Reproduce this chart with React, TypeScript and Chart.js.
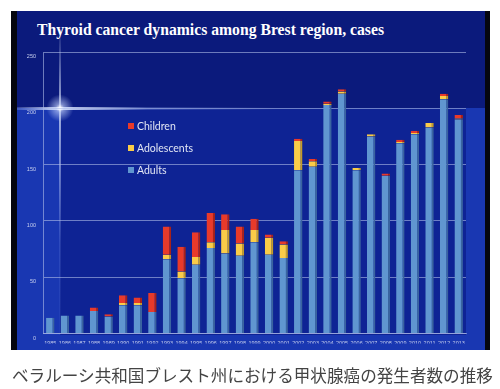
import React, { useEffect, useRef } from "react";
import { Chart, registerables } from "chart.js";

Chart.register(...registerables);

const years = [
  "1985", "1986", "1987", "1988", "1989", "1990", "1991", "1992", "1993", "1994",
  "1995", "1996", "1997", "1998", "1999", "2000", "2001", "2002", "2003", "2004",
  "2005", "2006", "2007", "2008", "2009", "2010", "2011", "2012", "2013",
];
const adults = [
  14, 16, 16, 20, 15, 25, 25, 19, 66, 49,
  61, 76, 71, 69, 81, 70, 67, 145, 148, 203,
  213, 145, 175, 140, 169, 177, 183, 208, 190,
];
const adolescents = [
  0, 0, 0, 0, 0, 2, 2, 0, 4, 6,
  7, 5, 21, 11, 11, 15, 12, 26, 5, 1,
  2, 2, 2, 0, 1, 1, 4, 3, 1,
];
const children = [
  0, 0, 0, 3, 2, 7, 5, 17, 25, 22,
  22, 26, 14, 15, 10, 3, 3, 2, 2, 2,
  2, 0, 0, 2, 2, 2, 0, 2, 3,
];
const yTicks = [0, 50, 100, 150, 200, 250];

const titleText = "Thyroid cancer dynamics among Brest region, cases";
const captionText = "ベラルーシ共和国ブレスト州における甲状腺癌の発生者数の推移";

const insideLegend = {
  id: "insideLegend",
  afterDraw(chart: any, _args: any, opts: any) {
    const ctx = chart.ctx;
    const ds = chart.data.datasets.slice().reverse();
    ctx.save();
    ctx.font = `${opts.fontSize}px ${opts.fontFamily}`;
    ctx.textBaseline = "middle";
    ctx.textAlign = "left";
    ds.forEach((d: any, i: number) => {
      const y = opts.y + i * opts.rowGap;
      ctx.fillStyle = d.backgroundColor;
      ctx.fillRect(opts.x, y - opts.box / 2, opts.box, opts.box);
      ctx.fillStyle = opts.color;
      ctx.fillText(d.label, opts.x + opts.box + 3, y + 0.5);
    });
    ctx.restore();
  },
};

export default function App() {
  const ref = useRef<HTMLCanvasElement | null>(null);

  useEffect(() => {
    if (!ref.current) return;
    const gridColor = "rgba(175,188,232,0.6)";
    const chart = new Chart(ref.current, {
      type: "bar",
      data: {
        labels: years,
        datasets: [
          {
            label: "Adults",
            data: adults,
            backgroundColor: "rgb(96,150,208)",
            borderColor: "rgb(58,100,160)",
            borderWidth: { right: 2, left: 0, top: 0, bottom: 0 },
            borderSkipped: false,
          },
          {
            label: "Adolescents",
            data: adolescents,
            backgroundColor: "rgb(250,204,72)",
            borderColor: "rgb(196,156,40)",
            borderWidth: { right: 2, left: 0, top: 0, bottom: 0 },
            borderSkipped: false,
          },
          {
            label: "Children",
            data: children,
            backgroundColor: "rgb(232,58,42)",
            borderColor: "rgb(170,34,24)",
            borderWidth: { right: 2, left: 0, top: 0, bottom: 0 },
            borderSkipped: false,
          },
        ],
      },
      options: {
        responsive: false,
        animation: false,
        maintainAspectRatio: false,
        layout: { padding: { left: 23, right: 34, top: 52, bottom: 45.5 } },
        datasets: { bar: { barPercentage: 0.58, categoryPercentage: 1 } },
        plugins: {
          legend: { display: false },
          tooltip: { enabled: false },
          title: { display: false },
          insideLegend: {
            x: 128,
            y: 126,
            rowGap: 22,
            box: 6,
            fontSize: 10.5,
            fontFamily: "Lato, 'Open Sans', sans-serif",
            color: "#e2e6f4",
          },
        } as any,
        scales: {
          x: {
            stacked: true,
            grid: { display: false, drawTicks: false },
            border: { display: true, color: gridColor },
            ticks: {
              autoSkip: false,
              maxRotation: 0,
              minRotation: 0,
              padding: 7,
              color: "#c8d0ee",
              font: { size: 5.5, family: "'Liberation Sans', Arial, sans-serif" },
            },
            afterFit: (scale: any) => {
              scale.height = 10;
            },
          },
          y: {
            stacked: true,
            min: 0,
            max: 250,
            afterBuildTicks: (scale: any) => {
              scale.ticks = yTicks.map((v) => ({ value: v }));
            },
            grid: { color: gridColor, lineWidth: 1, drawTicks: false },
            border: { display: true, color: gridColor },
            ticks: {
              padding: 7,
              labelOffset: 4.5,
              color: "#c8d0ee",
              font: { size: 5.5, family: "'Liberation Sans', Arial, sans-serif" },
            },
            afterFit: (scale: any) => {
              scale.width = 20;
            },
          },
        },
      },
      plugins: [insideLegend],
    });
    return () => chart.destroy();
  }, []);

  return (
    <div
      style={{
        position: "fixed",
        left: 0,
        top: 0,
        width: 500,
        height: 389,
        background: "#ffffff",
        overflow: "hidden",
      }}
    >
      {/* slide frame */}
      <div style={{ position: "absolute", left: 11, top: 11, width: 479, height: 339, background: "#05060f" }} />
      {/* slide dark base */}
      <div style={{ position: "absolute", left: 17, top: 11, width: 468, height: 339, background: "#0b1a7c" }} />
      {/* lighter lower band */}
      <div style={{ position: "absolute", left: 17, top: 108, width: 468, height: 242, background: "#1937b2" }} />
      {/* plot wall lower part */}
      <div style={{ position: "absolute", left: 60, top: 108, width: 406, height: 227, background: "#0e2394" }} />
      {/* flare */}
      <div
        style={{
          position: "absolute",
          left: 17,
          top: 106.5,
          width: 260,
          height: 3,
          background:
            "linear-gradient(to right, rgba(200,215,255,0.2) 0%, rgba(225,235,255,0.9) 16.5%, rgba(160,185,255,0.25) 50%, rgba(160,185,255,0) 100%)",
        }}
      />
      <div
        style={{
          position: "absolute",
          left: 59,
          top: 25,
          width: 2,
          height: 310,
          background:
            "linear-gradient(to bottom, rgba(160,185,255,0) 0%, rgba(225,235,255,0.7) 27%, rgba(160,185,255,0.15) 70%, rgba(160,185,255,0.03) 100%)",
        }}
      />
      <div
        style={{
          position: "absolute",
          left: 44,
          top: 92,
          width: 32,
          height: 32,
          background:
            "radial-gradient(circle, rgba(255,255,255,1) 0%, rgba(200,215,255,0.6) 18%, rgba(150,175,255,0) 60%)",
        }}
      />
      {/* title */}
      <div
        style={{
          position: "absolute",
          left: 37,
          top: 22,
          fontFamily: "'Liberation Serif', 'Times New Roman', serif",
          fontWeight: 700,
          fontSize: 15.7,
          lineHeight: "16px",
          color: "#ffffff",
          whiteSpace: "nowrap",
        }}
      >
        {titleText}
      </div>
      <canvas
        ref={ref}
        width={500}
        height={389}
        style={{ position: "absolute", left: 0, top: 0, width: 500, height: 389 }}
      />
      {/* caption */}
      <div
        style={{
          position: "absolute",
          left: 12,
          top: 367,
          fontFamily: "'Noto Sans CJK JP', sans-serif",
          fontSize: 16.6,
          lineHeight: "16.6px",
          color: "#444444",
          whiteSpace: "nowrap",
        }}
      >
        {captionText}
      </div>
    </div>
  );
}
